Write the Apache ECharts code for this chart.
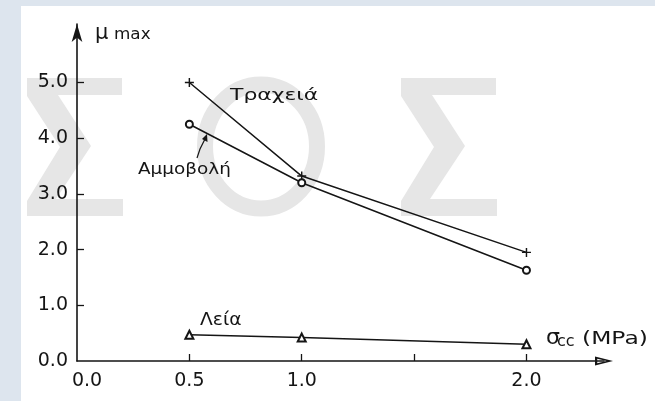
<!DOCTYPE html>
<html>
<head>
<meta charset="utf-8">
<script src="https://cdn.jsdelivr.net/npm/echarts@6/dist/echarts.min.js"></script>
<style>html,body{margin:0;padding:0;background:#dde5ee;}#c{width:655px;height:401px;}</style>
</head>
<body>
<div id="c"></div>
<script>
// ---- data ----
const sigmaCC = [0.5, 1.0, 2.0];               // σcc (MPa)
const tracheia = [5.0, 3.32, 1.95];            // Τραχειά
const ammovoli = [4.25, 3.20, 1.63];           // Αμμοβολή
const leia = [0.47, 0.42, 0.30];               // Λεία
const xTickValues = [0.5, 1.0, 1.5, 2.0];
const xLabelValues = [0, 0.5, 1.0, 2.0];
const yTickValues = [1, 2, 3, 4, 5];
const yLabelValues = [0, 1, 2, 3, 4, 5];
const seriesNames = ['Τραχειά', 'Αμμοβολή', 'Λεία'];

const INK = '#151515';
const FONT = 'DejaVu Sans';
const WM = '#e6e6e6';

function pairs(ys) { return sigmaCC.map((x, i) => [x, ys[i]]); }

function sigmaShape(x0) {
  return [[x0, 78], [x0 + 95, 78], [x0 + 95, 95], [x0 + 31, 95], [x0 + 64, 146],
          [x0 + 29, 199], [x0 + 96, 199], [x0 + 96, 216], [x0, 216], [x0, 201],
          [x0 + 33, 147], [x0, 96]];
}

const chart = echarts.init(document.getElementById('c'), null, {renderer: 'canvas'});
const plusPath = 'path://M-0.8,-5H0.8V-0.8H5V0.8H0.8V5H-0.8V0.8H-5V-0.8H-0.8Z';
const hollowArrow = 'path://M5,0L10,20L0,20Z M5,7L2.6,17.5L7.4,17.5Z';

function label(text, x, y, size, sx) {
  return {type: 'text', x: x, y: y, scaleX: sx || 1,
          style: {text: text, font: size + 'px "DejaVu Sans"', fill: INK, textVerticalAlign: 'middle'}, z: 10};
}

const option = {
  backgroundColor: '#dde5ee',
  animation: false,
  grid: {left: 77, right: 51, top: 24, bottom: 40, containLabel: false},
  xAxis: {
    type: 'value', min: 0, max: 2.345,
    splitLine: {show: false},
    axisLine: {lineStyle: {color: INK, width: 1.6}, symbol: ['none', hollowArrow], symbolSize: [10, 18]},
    axisTick: {inside: true, length: 7, customValues: xTickValues, lineStyle: {color: INK, width: 1.3}},
    axisLabel: {
      customValues: xLabelValues, color: INK, fontSize: 19, fontFamily: FONT, margin: 11,
      formatter: v => v === 0 ? '{z|0.0}' : v.toFixed(1),
      rich: {z: {fontSize: 19, fontFamily: FONT, color: INK, padding: [0, 0, 0, 20]}}
    }
  },
  yAxis: {
    type: 'value', min: 0, max: 6.05,
    splitLine: {show: false},
    axisLine: {lineStyle: {color: INK, width: 1.6}, symbol: ['none', 'arrow'], symbolSize: [8, 18]},
    axisTick: {inside: true, length: 7, customValues: yTickValues, lineStyle: {color: INK, width: 1.3}},
    axisLabel: {customValues: yLabelValues, color: INK, fontSize: 19, fontFamily: FONT, margin: 9,
      formatter: v => v.toFixed(1)}
  },
  series: [
    {name: seriesNames[0], type: 'line', data: pairs(tracheia), symbol: plusPath, symbolSize: 9,
     itemStyle: {color: INK}, lineStyle: {color: INK, width: 1.5}, z: 5},
    {name: seriesNames[1], type: 'line', data: pairs(ammovoli), symbol: 'emptyCircle', symbolSize: 7,
     itemStyle: {color: INK, borderWidth: 1.3}, lineStyle: {color: INK, width: 1.5}, z: 5},
    {name: seriesNames[2], type: 'line', data: pairs(leia), symbol: 'emptyTriangle', symbolSize: 8,
     itemStyle: {color: INK, borderWidth: 1.3}, lineStyle: {color: INK, width: 1.5}, z: 5}
  ],
  graphic: [
    {type: 'rect', shape: {x: 21, y: 6, width: 700, height: 420}, style: {fill: '#ffffff'}, z: -20, silent: true},
    {type: 'polygon', shape: {points: sigmaShape(27)}, style: {fill: WM}, z: -10, silent: true},
    {type: 'polygon', shape: {points: sigmaShape(401)}, style: {fill: WM}, z: -10, silent: true},
    {type: 'ellipse', shape: {cx: 261, cy: 146.5, rx: 56, ry: 62}, style: {fill: null, stroke: WM, lineWidth: 16}, z: -10, silent: true},
    // axis names
    label('μ', 95, 34, 21),
    label('max', 114, 35, 16, 1.05),
    label('σ', 546, 338, 22),
    label('cc', 557, 342, 16),
    label('(MPa)', 582, 339, 18, 1.3),
    // series annotations
    label(seriesNames[0], 230, 96, 16.5, 1.33),
    label(seriesNames[1], 138, 170, 16, 1.15),
    label(seriesNames[2], 200, 321, 17, 1.1),
    {type: 'polyline', shape: {points: [[197, 158], [200, 149], [205, 139]]}, style: {stroke: INK, lineWidth: 1.2, fill: null}, z: 10},
    {type: 'polygon', shape: {points: [[207, 134], [207.5, 142], [202, 139]]}, style: {fill: INK}, z: 10}
  ]
};
chart.setOption(option);
</script>
</body>
</html>
